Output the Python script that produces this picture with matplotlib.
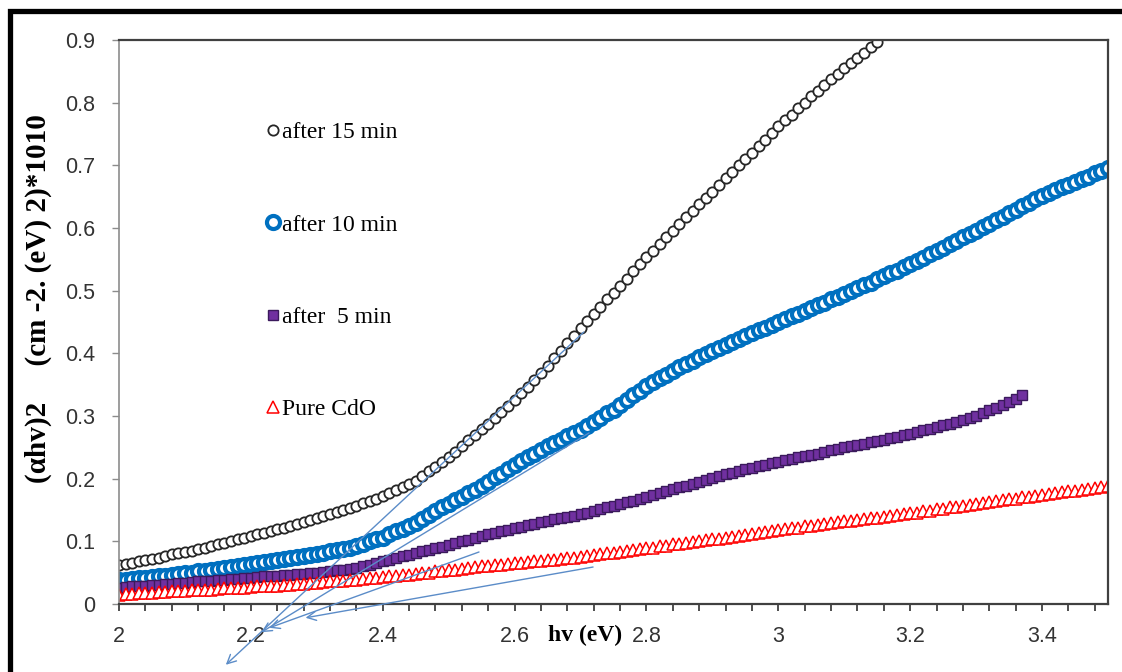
import matplotlib
matplotlib.use("Agg")
import matplotlib.pyplot as plt
from matplotlib.patches import Rectangle
from matplotlib.ticker import FormatStrFormatter

# photon energy grid (eV)
hv = [
    2.00, 2.01, 2.02, 2.03, 2.04, 2.05, 2.06, 2.07, 2.08, 2.09,
    2.10, 2.11, 2.12, 2.13, 2.14, 2.15, 2.16, 2.17, 2.18, 2.19,
    2.20, 2.21, 2.22, 2.23, 2.24, 2.25, 2.26, 2.27, 2.28, 2.29,
    2.30, 2.31, 2.32, 2.33, 2.34, 2.35, 2.36, 2.37, 2.38, 2.39,
    2.40, 2.41, 2.42, 2.43, 2.44, 2.45, 2.46, 2.47, 2.48, 2.49,
    2.50, 2.51, 2.52, 2.53, 2.54, 2.55, 2.56, 2.57, 2.58, 2.59,
    2.60, 2.61, 2.62, 2.63, 2.64, 2.65, 2.66, 2.67, 2.68, 2.69,
    2.70, 2.71, 2.72, 2.73, 2.74, 2.75, 2.76, 2.77, 2.78, 2.79,
    2.80, 2.81, 2.82, 2.83, 2.84, 2.85, 2.86, 2.87, 2.88, 2.89,
    2.90, 2.91, 2.92, 2.93, 2.94, 2.95, 2.96, 2.97, 2.98, 2.99,
    3.00, 3.01, 3.02, 3.03, 3.04, 3.05, 3.06, 3.07, 3.08, 3.09,
    3.10, 3.11, 3.12, 3.13, 3.14, 3.15, 3.16, 3.17, 3.18, 3.19,
    3.20, 3.21, 3.22, 3.23, 3.24, 3.25, 3.26, 3.27, 3.28, 3.29,
    3.30, 3.31, 3.32, 3.33, 3.34, 3.35, 3.36, 3.37, 3.38, 3.39,
    3.40, 3.41, 3.42, 3.43, 3.44, 3.45, 3.46, 3.47, 3.48, 3.49,
    3.50,
]

# (alpha*hv)^2 values, x1e10
after_15 = [
    .062, .064, .066, .068, .070, .072, .074, .076, .079, .081,
    .083, .085, .088, .090, .093, .095, .098, .100, .103, .105,
    .108, .111, .114, .116, .119, .122, .125, .128, .131, .134,
    .137, .140, .143, .147, .150, .153, .157, .161, .164, .168,
    .172, .177, .182, .187, .192, .197, .204, .212, .219, .227,
    .234, .243, .252, .261, .270, .279, .288, .297, .307, .316,
    .325, .336, .347, .358, .369, .380, .392, .404, .416, .428,
    .440, .451, .463, .474, .486, .497, .508, .519, .531, .542,
    .553, .564, .575, .585, .596, .607, .617, .627, .638, .648,
    .658, .668, .679, .689, .700, .710, .720, .731, .741, .752,
    .762, .772, .781, .791, .800, .810, .819, .828, .837, .846,
    .855, .863, .872, .880, .889, .897,
]

after_10 = [
    .038, .039, .040, .041, .042, .043, .044, .045, .047, .048,
    .049, .050, .052, .053, .055, .056, .058, .059, .061, .062,
    .064, .066, .067, .069, .070, .072, .074, .075, .077, .078,
    .080, .082, .084, .086, .088, .090, .093, .096, .100, .103,
    .106, .111, .116, .120, .125, .130, .136, .142, .148, .154,
    .160, .166, .171, .177, .182, .188, .195, .202, .208, .215,
    .222, .228, .234, .240, .246, .252, .257, .262, .268, .273,
    .278, .284, .291, .297, .304, .310, .318, .325, .333, .340,
    .348, .354, .360, .366, .372, .378, .383, .388, .394, .399,
    .404, .409, .414, .418, .423, .428, .432, .437, .441, .446,
    .450, .454, .459, .463, .468, .472, .477, .481, .486, .490,
    .495, .500, .504, .509, .513, .518, .523, .528, .532, .537,
    .542, .547, .552, .558, .563, .568, .574, .579, .585, .590,
    .596, .602, .607, .613, .618, .624, .629, .635, .640, .646,
    .651, .656, .660, .665, .669, .674, .678, .682, .687, .691,
    .695,
]

after_5 = [
    .026, .027, .028, .028, .029, .030, .031, .032, .032, .033,
    .034, .035, .036, .036, .037, .038, .039, .040, .040, .041,
    .042, .043, .044, .044, .045, .046, .047, .048, .048, .049,
    .050, .051, .052, .054, .055, .056, .058, .061, .063, .066,
    .068, .071, .073, .076, .078, .081, .084, .086, .089, .091,
    .094, .097, .100, .102, .105, .108, .111, .113, .116, .118,
    .121, .123, .126, .128, .131, .133, .135, .137, .139, .141,
    .143, .146, .149, .151, .154, .157, .160, .163, .165, .168,
    .171, .174, .177, .180, .183, .186, .189, .192, .195, .198,
    .201, .204, .207, .209, .212, .215, .217, .220, .222, .225,
    .227, .229, .231, .234, .236, .238, .240, .243, .245, .248,
    .250, .252, .254, .256, .258, .260, .262, .265, .267, .270,
    .272, .275, .277, .280, .282, .285, .288, .291, .294, .297,
    .300, .304, .309, .313, .318, .322, .327, .333,
]

pure_cdo = [
    .015, .016, .016, .017, .017, .018, .019, .019, .020, .020,
    .021, .022, .022, .023, .023, .024, .025, .025, .026, .026,
    .027, .028, .028, .029, .029, .030, .031, .032, .032, .033,
    .034, .035, .036, .036, .037, .038, .039, .040, .041, .042,
    .043, .044, .045, .046, .047, .048, .049, .050, .052, .053,
    .054, .055, .056, .058, .059, .060, .061, .062, .063, .064,
    .065, .066, .067, .068, .069, .070, .071, .072, .073, .074,
    .075, .076, .078, .079, .081, .082, .083, .085, .086, .088,
    .089, .090, .092, .093, .095, .096, .097, .099, .100, .102,
    .103, .104, .106, .107, .109, .110, .112, .113, .115, .116,
    .118, .119, .121, .122, .124, .125, .126, .128, .129, .131,
    .132, .133, .134, .136, .137, .138, .139, .141, .142, .144,
    .145, .146, .148, .149, .151, .152, .154, .155, .157, .158,
    .160, .161, .163, .164, .166, .167, .168, .170, .171, .173,
    .174, .175, .177, .178, .180, .181, .182, .184, .185, .187,
    .188,
]

# band-gap extrapolation lines: (start x, start y, end x, end y)
tangents = [
    (2.705, 0.434, 2.162, -0.097),
    (2.713, 0.273, 2.216, -0.045),
    (2.546, 0.083, 2.228, -0.038),
    (2.719, 0.059, 2.283, -0.022),
]

W, H = 1122, 672
fig = plt.figure(figsize=(W / 100, H / 100), dpi=100)
ax = fig.add_axes([119 / W, 1 - 604 / H, (1108 - 119) / W, (604 - 40) / H])

ax.plot(hv[:len(after_15)], after_15, ls="none", marker="o", ms=7.4,
        mfc="white", mec="#262626", mew=1.3, label="after 15 min")
ax.plot(hv[:len(after_10)], after_10, ls="none", marker="o", ms=9.4,
        mfc="white", mec="#0070C0", mew=3.0, label="after 10 min")
ax.plot(hv[:len(after_5)], after_5, ls="none", marker="s", ms=7.0,
        mfc="#7030A0", mec="#3B1A5C", mew=1.0, label="after  5 min")
ax.plot(hv[:len(pure_cdo)], pure_cdo, ls="none", marker="^", ms=9.0,
        mfc="white", mec="#FF0000", mew=1.1, label="Pure CdO")

for x0, y0, x1, y1 in tangents:
    ax.annotate("", xy=(x1, y1), xytext=(x0, y0), annotation_clip=False,
                arrowprops=dict(arrowstyle="->", color="#5B8CC8", lw=1.0,
                                mutation_scale=16, shrinkA=0, shrinkB=0))

ax.set_xlim(2, 3.5)
ax.set_ylim(0, 0.9)
ax.set_xticks([2.0, 2.2, 2.4, 2.6, 2.8, 3.0, 3.2, 3.4])
ax.set_xticks([2 + 0.04 * i for i in range(38)], minor=True)
ax.set_yticks([0.1 * i for i in range(10)])
ax.xaxis.set_major_formatter(FormatStrFormatter("%g"))
ax.yaxis.set_major_formatter(FormatStrFormatter("%g"))

for side in ["top", "right", "bottom"]:
    ax.spines[side].set_color("#404040")
    ax.spines[side].set_linewidth(1.6)
ax.spines["left"].set_color("#8c8c8c")
ax.spines["left"].set_linewidth(1.2)

ax.tick_params(axis="x", which="both", direction="out", length=5, width=1.3,
               color="#404040", labelsize=15.5, labelcolor="#333333", pad=11)
ax.tick_params(axis="y", direction="out", length=5, width=1.0,
               color="#8c8c8c", labelsize=15.5, labelcolor="#333333", pad=12)
for lab in ax.get_xticklabels() + ax.get_yticklabels():
    lab.set_fontfamily("Liberation Sans")

fig.text(585 / W, 1 - 635 / H, "hv (eV)", family="Liberation Serif",
         weight="bold", fontsize=17, ha="center", va="center")
fig.text(38 / W, 1 - 299 / H, "(\u03b1hv)2     (cm -2. (eV) 2)*1010",
         family="Liberation Serif", weight="bold", fontsize=21,
         rotation=90, ha="center", va="center")

ax.legend(loc="upper left", bbox_to_anchor=(255 / W, 1 - 110 / H),
          bbox_transform=fig.transFigure, frameon=False,
          prop={"family": "Liberation Serif", "size": 17},
          handlelength=0.5, handletextpad=0.15, borderpad=0,
          labelspacing=3.0, markerscale=1.0, numpoints=1)

# heavy outer frame
fig.add_artist(Rectangle((10 / W, -0.2), 1.2, 1.2 - 10.5 / H,
                         transform=fig.transFigure, fill=False,
                         lw=3.8, ec="black", clip_on=False))

fig.savefig("out.png", dpi=100)
